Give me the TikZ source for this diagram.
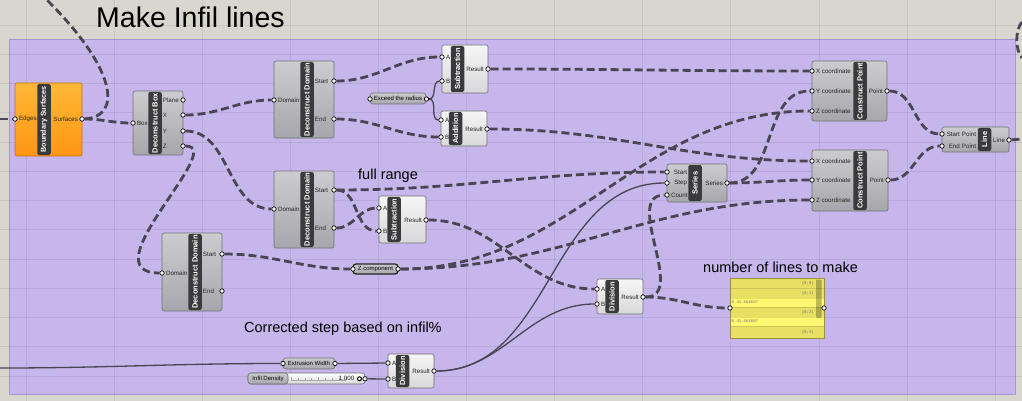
\documentclass[tikz,border=0pt]{standalone}
\usepackage{fontspec}
\setmainfont{Liberation Sans}
\newfontfamily\panelfont{Liberation Mono}
\definecolor{fondgris}{RGB}{217,214,207}
\definecolor{groupeviolet}{RGB}{199,182,235}
\definecolor{bordviolet}{RGB}{168,150,212}
\definecolor{couleurfil}{RGB}{74,69,82}
\definecolor{bandenoire}{RGB}{58,58,60}
\definecolor{bordcomposant}{RGB}{112,112,118}
\definecolor{corpshaut}{RGB}{204,204,208}
\definecolor{corpsbas}{RGB}{166,166,172}
\definecolor{clairhaut}{RGB}{246,246,246}
\definecolor{clairbas}{RGB}{216,216,218}
\definecolor{orangehaut}{RGB}{255,184,56}
\definecolor{orangebas}{RGB}{255,150,20}
\definecolor{bordorange}{RGB}{196,112,24}
\definecolor{panjaune}{RGB}{232,224,98}
\definecolor{panclair}{RGB}{255,248,112}
\definecolor{bordjaune}{RGB}{150,145,60}
\pgfdeclarelayer{fond}
\pgfdeclarelayer{fils}
\pgfsetlayers{fond,fils,main}
\begin{document}
\begin{tikzpicture}[x=1pt,y=-1pt,label distance=0.8pt]
			% Styles (MODIFIABLES)
			\tikzstyle{fil}=[line width=2.8pt,dash pattern=on 8pt off 4pt,couleurfil]
			\tikzstyle{filfin}=[line width=1.3pt,couleurfil]
			\tikzstyle{grille}=[black,opacity=0.07,line width=0.8pt]
			\tikzstyle{composant}=[rectangle,rounded corners=2pt,draw=bordcomposant,line width=0.6pt,top color=corpshaut,bottom color=corpsbas,inner sep=0pt]
			\tikzstyle{composantclair}=[composant,top color=clairhaut,bottom color=clairbas]
			\tikzstyle{composantorange}=[composant,draw=bordorange,top color=orangehaut,bottom color=orangebas]
			\tikzstyle{bande}=[rectangle,rounded corners=2pt,fill=bandenoire,text=white,font=\bfseries\fontsize{7.5}{8}\selectfont,inner sep=0pt,minimum height=13.5pt,rotate=90]
			\tikzstyle{port}=[circle,draw=black,fill=white,line width=0.7pt,inner sep=0pt,minimum size=4.4pt]
			\tikzstyle{etiq}=[font=\fontsize{6.2}{7}\selectfont,inner sep=0.5pt,text=black!85]
			\tikzstyle{parametre}=[rectangle,rounded corners=3pt,draw=bordcomposant,line width=0.6pt,top color=corpshaut,bottom color=corpsbas,font=\fontsize{6}{7}\selectfont,inner sep=0pt,minimum height=11pt]
			\tikzstyle{parametrefonce}=[parametre,draw=black!85,line width=1.3pt]
			\tikzstyle{curseur}=[parametre,top color=white,bottom color=clairbas]
			\tikzstyle{panneau}=[rectangle,draw=bordjaune,line width=0.7pt,fill=panjaune,inner sep=0pt]
			\tikzstyle{textepanneau}=[font=\panelfont\fontsize{4}{4.5}\selectfont,text=black!55,inner sep=0pt]
			\tikzstyle{commentaire}=[font=\fontsize{14.5}{16}\selectfont,inner sep=0pt,anchor=base west]
			\tikzstyle{titre}=[font=\fontsize{28.5}{30}\selectfont,inner sep=0pt,anchor=base west]
			\useasboundingbox (0,0) rectangle (1022,401);
			% Fond, groupe et grille
			\begin{pgfonlayer}{fond}
			\fill[fondgris] (0,0) rectangle (1022,401);
			\fill[groupeviolet] (9,39) rectangle (1015,394);
			\draw[bordviolet,line width=0.7pt] (9,39) rectangle (1015,394);
			\foreach \gx in {26,114.1,...,1000} {\draw[grille] (\gx,0) -- (\gx,401);}
			\foreach \gy in {25,54.25,...,400} {\draw[grille] (0,\gy) -- (1022,\gy);}
			\end{pgfonlayer}
			% Textes
			\node[titre] (titre) at (96,28) {Make Infil lines};
			\node[commentaire] (plein) at (358,179.5) {full range};
			\node[commentaire] (nombre) at (703,272) {number of lines to make};
			\node[commentaire] (corrige) at (244,332) {Corrected step based on infil\%};
			% Extremites libres
			\coordinate (gauche) at (0,119);
			\coordinate (hautgauche) at (45,-2);
			\coordinate (droite) at (1022,139);
			\coordinate (hautdroite1) at (1022,22);
			\coordinate (hautdroite2) at (1022,58);
			\coordinate (extgauche) at (0,368);
			% Boundary Surfaces
			\node[composantorange,minimum width=67pt,minimum height=73pt] (bsurf) at (48.5,119.5) {};
			\node[bande,minimum width=71pt] (bsurf-b) at (44,119.5) {\fontsize{7.2}{8}\selectfont Boundary Surfaces};
			\node[port,label={[etiq]right:Edges}] (bs-edges) at (15,119) {};
			\node[port,label={[etiq]left:Surfaces}] (bs-surf) at (82,119) {};
			% Deconstruct Box
			\node[composant,minimum width=50pt,minimum height=64pt] (dbox) at (158,123) {};
			\node[bande,minimum width=62pt] (dbox-b) at (155,123) {Deconstruct Box};
			\node[port,label={[etiq]right:Box}] (dbox-box) at (133,123) {};
			\node[port,label={[etiq,text width=16pt,align=left]left:Plane}] (dbox-plane) at (183,100) {};
			\node[port,label={[etiq,text width=16pt,align=left]left:X}] (dbox-x) at (183,115) {};
			\node[port,label={[etiq,text width=16pt,align=left]left:Y}] (dbox-y) at (183,131) {};
			\node[port,label={[etiq,text width=16pt,align=left]left:Z}] (dbox-z) at (183,146) {};
			% Deconstruct Domain (1)
			\node[composant,minimum width=60pt,minimum height=77pt] (dom1) at (304,99.5) {};
			\node[bande,minimum width=75pt] (dom1-b) at (307,99.5) {Deconstruct Domain};
			\node[port,label={[etiq]right:Domain}] (dom1-dom) at (274,100) {};
			\node[port,label={[etiq,text width=15pt,align=left]left:Start}] (dom1-start) at (334,81) {};
			\node[port,label={[etiq,text width=15pt,align=left]left:End}] (dom1-end) at (334,119) {};
			% Subtraction (1)
			\node[composantclair,minimum width=46pt,minimum height=48pt] (sub1) at (465,69) {};
			\node[bande,minimum width=46pt] (sub1-b) at (457.5,69) {Subtraction};
			\node[port,label={[etiq]right:A}] (sub1-a) at (442,57) {};
			\node[port,label={[etiq]right:B}] (sub1-b) at (442,81) {};
			\node[port,label={[etiq]left:Result}] (sub1-res) at (488,69) {};
			% Exceed the radius
			\node[parametre,minimum width=56pt] (exceed) at (398,98.5) {Exceed the radius};
			\node[port] (exc-in) at (370,99) {};
			\node[port] (exc-out) at (426.5,99) {};
			% Addition
			\node[composantclair,minimum width=46pt,minimum height=35pt] (add) at (464,128.5) {};
			\node[bande,minimum width=33pt] (add-b) at (455.5,128.5) {Addition};
			\node[port,label={[etiq]right:A}] (add-a) at (441,120) {};
			\node[port,label={[etiq]right:B}] (add-b) at (441,137) {};
			\node[port,label={[etiq]left:Result}] (add-res) at (487,129) {};
			% Deconstruct Domain (2)
			\node[composant,minimum width=60pt,minimum height=77pt] (dom2) at (304,209.5) {};
			\node[bande,minimum width=75pt] (dom2-b) at (307,209.5) {Deconstruct Domain};
			\node[port,label={[etiq]right:Domain}] (dom2-dom) at (274,209) {};
			\node[port,label={[etiq,text width=15pt,align=left]left:Start}] (dom2-start) at (334,190) {};
			\node[port,label={[etiq,text width=15pt,align=left]left:End}] (dom2-end) at (334,228) {};
			% Subtraction (2)
			\node[composantclair,minimum width=47pt,minimum height=47pt] (sub2) at (402.5,219.5) {};
			\node[bande,minimum width=45pt] (sub2-b) at (394,219.5) {Subtraction};
			\node[port,label={[etiq]right:A}] (sub2-a) at (379,208) {};
			\node[port,label={[etiq]right:B}] (sub2-b) at (379,231) {};
			\node[port,label={[etiq]left:Result}] (sub2-res) at (426,220) {};
			% Deconstruct Domain (3)
			\node[composant,minimum width=60pt,minimum height=78pt] (dom3) at (192,272) {};
			\node[bande,minimum width=76pt] (dom3-b) at (195,272) {Deconstruct Domain};
			\node[port,label={[etiq]right:Domain}] (dom3-dom) at (162,273) {};
			\node[port,label={[etiq,text width=15pt,align=left]left:Start}] (dom3-start) at (222,254) {};
			\node[port,label={[etiq,text width=15pt,align=left]left:End}] (dom3-end) at (222,291) {};
			% Z component
			\node[parametrefonce,minimum width=45pt,minimum height=10pt] (zcomp) at (375.5,269) {Z component};
			\node[port] (z-in) at (353,269) {};
			\node[port] (z-out) at (398,269) {};
			% Series
			\node[composant,minimum width=60pt,minimum height=38pt] (series) at (697,183) {};
			\node[bande,minimum width=36pt] (series-b) at (695,183) {Series};
			\node[port,label={[etiq,text width=16pt,align=right]right:Start}] (ser-start) at (667,172) {};
			\node[port,label={[etiq,text width=16pt,align=right]right:Step}] (ser-step) at (667,183) {};
			\node[port,label={[etiq,text width=16pt,align=right]right:Count}] (ser-count) at (667,195) {};
			\node[port,label={[etiq]left:Series}] (ser-out) at (727,183) {};
			% Construct Point (1)
			\node[composant,minimum width=75pt,minimum height=60pt] (cp1) at (849.5,91) {};
			\node[bande,minimum width=58pt] (cp1-b) at (860,91) {Construct Point};
			\node[port,label={[etiq]right:X coordinate}] (cp1-x) at (812,71) {};
			\node[port,label={[etiq]right:Y coordinate}] (cp1-y) at (812,91) {};
			\node[port,label={[etiq]right:Z coordinate}] (cp1-z) at (812,111) {};
			\node[port,label={[etiq]left:Point}] (cp1-pt) at (887,91) {};
			% Construct Point (2)
			\node[composant,minimum width=76pt,minimum height=61pt] (cp2) at (850,180.5) {};
			\node[bande,minimum width=59pt] (cp2-b) at (860,180.5) {Construct Point};
			\node[port,label={[etiq]right:X coordinate}] (cp2-x) at (812,161) {};
			\node[port,label={[etiq]right:Y coordinate}] (cp2-y) at (812,180) {};
			\node[port,label={[etiq]right:Z coordinate}] (cp2-z) at (812,200) {};
			\node[port,label={[etiq]left:Point}] (cp2-pt) at (888,180) {};
			% Line
			\node[composant,minimum width=67pt,minimum height=25pt] (line) at (975.5,139.5) {};
			\node[bande,minimum width=23pt] (line-b) at (984.5,139.5) {Line};
			\node[port,label={[etiq,text width=30pt,align=right]right:Start Point}] (line-start) at (942,134) {};
			\node[port,label={[etiq,text width=30pt,align=right]right:End Point}] (line-end) at (942,146) {};
			\node[port,label={[etiq]left:Line}] (line-out) at (1009,140) {};
			% Division (1)
			\node[composantclair,minimum width=46pt,minimum height=35pt] (div1) at (620,296.5) {};
			\node[bande,minimum width=33pt] (div1-b) at (612,296.5) {Division};
			\node[port,label={[etiq]right:A}] (div1-a) at (597,289) {};
			\node[port,label={[etiq]right:B}] (div1-b) at (597,304) {};
			\node[port,label={[etiq]left:Result}] (div1-res) at (643,297) {};
			% Panneau
			\node[panneau,minimum width=94pt,minimum height=60pt] (panneau) at (777,308) {};
			\fill[panclair] (730.5,298.5) rectangle (823.5,307);
			\fill[panclair] (730.5,317.5) rectangle (823.5,326);
			\draw[bordjaune,opacity=0.35,line width=0.4pt] (730.5,288.5) -- (823.5,288.5) (730.5,307.5) -- (823.5,307.5) (730.5,326.5) -- (823.5,326.5);
			\fill[black,opacity=0.25,rounded corners=1pt] (816,279.5) rectangle (821.5,318);
			\node[textepanneau,anchor=east] (br0) at (814,283.5) {\{0;0\}};
			\node[textepanneau,anchor=east] (br1) at (814,293) {\{0;1\}};
			\node[textepanneau,anchor=west] (val1) at (731.5,302.5) {0 41.666667};
			\node[textepanneau,anchor=east] (br2) at (814,312) {\{0;2\}};
			\node[textepanneau,anchor=west] (val2) at (731.5,321.5) {0 41.666667};
			\node[textepanneau,anchor=east] (br3) at (814,332) {\{0;3\}};
			\node[port] (pan-in) at (730,308) {};
			\node[port] (pan-out) at (824,308) {};
			% Division (2)
			\node[composantclair,minimum width=46pt,minimum height=34pt] (div2) at (411,371) {};
			\node[bande,minimum width=32pt] (div2-b) at (402.5,371) {Division};
			\node[port,label={[etiq]right:A}] (div2-a) at (388,363) {};
			\node[port,label={[etiq]right:B}] (div2-b) at (388,379) {};
			\node[port,label={[etiq]left:Result}] (div2-res) at (434,371) {};
			% Extrusion Width
			\node[parametre,minimum width=52pt] (extw) at (309,363.5) {Extrusion Width};
			\node[port] (extw-in) at (283,363.5) {};
			\node[port] (extw-out) at (335,363.5) {};
			% Infil Density (curseur)
			\node[curseur,minimum width=117pt] (infil) at (306.5,378.5) {};
			\node[parametre,minimum width=40pt] (infil-nom) at (268,378.5) {Infil Density};
			\draw[gray!70,line width=0.4pt] (291,380) -- (346,380) (291,376.5) -- (291,380) (297.9,378) -- (297.9,380) (304.8,378) -- (304.8,380) (311.6,378) -- (311.6,380) (318.5,377) -- (318.5,380) (325.4,378) -- (325.4,380) (332.2,378) -- (332.2,380) (339.1,378) -- (339.1,380) (346,376.5) -- (346,380);
			\node[etiq,anchor=east] (infil-val) at (355,378.8) {1.000};
			\node[circle,draw=black,fill=white,line width=1pt,inner sep=0pt,minimum size=4pt] (infil-bouton) at (359.5,378.8) {};
			\node[port] (infil-out) at (365,378.8) {};
			% Fils (MODIFIABLES : Styles)
			\begin{pgfonlayer}{fils}
			\draw[fil] (gauche) -- (bs-edges);
			\draw[fil] (bs-surf) .. controls (122,117) and (118,70) .. (hautgauche);
			\draw[fil] (bs-surf) to[out=0,in=180] (dbox-box);
			\draw[fil] (dbox-x) to[out=0,in=180] (dom1-dom);
			\draw[fil] (dbox-y) to[out=0,in=180] (dom2-dom);
			\draw[fil] (dbox-z) .. controls +(45,0) and +(-75,0) .. (dom3-dom);
			\draw[fil] (dom1-start) to[out=0,in=180] (sub1-a);
			\draw[fil] (dom1-end) to[out=0,in=180] (add-b);
			\draw[filfin] (exc-out) to[out=0,in=180] (sub1-b);
			\draw[filfin] (exc-out) to[out=0,in=180] (add-a);
			\draw[fil] (sub1-res) to[out=0,in=180] (cp1-x);
			\draw[fil] (add-res) to[out=0,in=180] (cp2-x);
			\draw[fil] (dom2-start) to[out=0,in=180] (ser-start);
			\draw[fil] (dom2-start) to[out=0,in=180] (sub2-b);
			\draw[fil] (dom2-end) to[out=0,in=180] (sub2-a);
			\draw[fil] (sub2-res) to[out=0,in=180] (div1-a);
			\draw[fil] (dom3-start) to[out=0,in=180] (z-in);
			\draw[fil] (z-out) to[out=0,in=180] (cp1-z);
			\draw[fil] (z-out) to[out=0,in=180] (cp2-z);
			\draw[fil] (ser-out) to[out=0,in=180] (cp1-y);
			\draw[fil] (ser-out) to[out=0,in=180] (cp2-y);
			\draw[filfin] (div2-res) to[out=0,in=180] (ser-step);
			\draw[filfin] (div2-res) to[out=0,in=180] (div1-b);
			\draw[fil] (div1-res) .. controls +(45,0) and +(-45,0) .. (ser-count);
			\draw[fil] (div1-res) to[out=0,in=180] (pan-in);
			\draw[fil] (cp1-pt) to[out=0,in=180] (line-start);
			\draw[fil] (cp2-pt) to[out=0,in=180] (line-end);
			\draw[fil] (line-out) -- (droite);
			\draw[fil] (hautdroite1) .. controls (1015,30) and (1015,50) .. (hautdroite2);
			\draw[filfin] (extgauche) to[out=0,in=180] (extw-in);
			\draw[filfin] (extw-out) -- (div2-a);
			\draw[filfin] (infil-out) -- (div2-b);
			\end{pgfonlayer}
\end{tikzpicture}
\end{document}
